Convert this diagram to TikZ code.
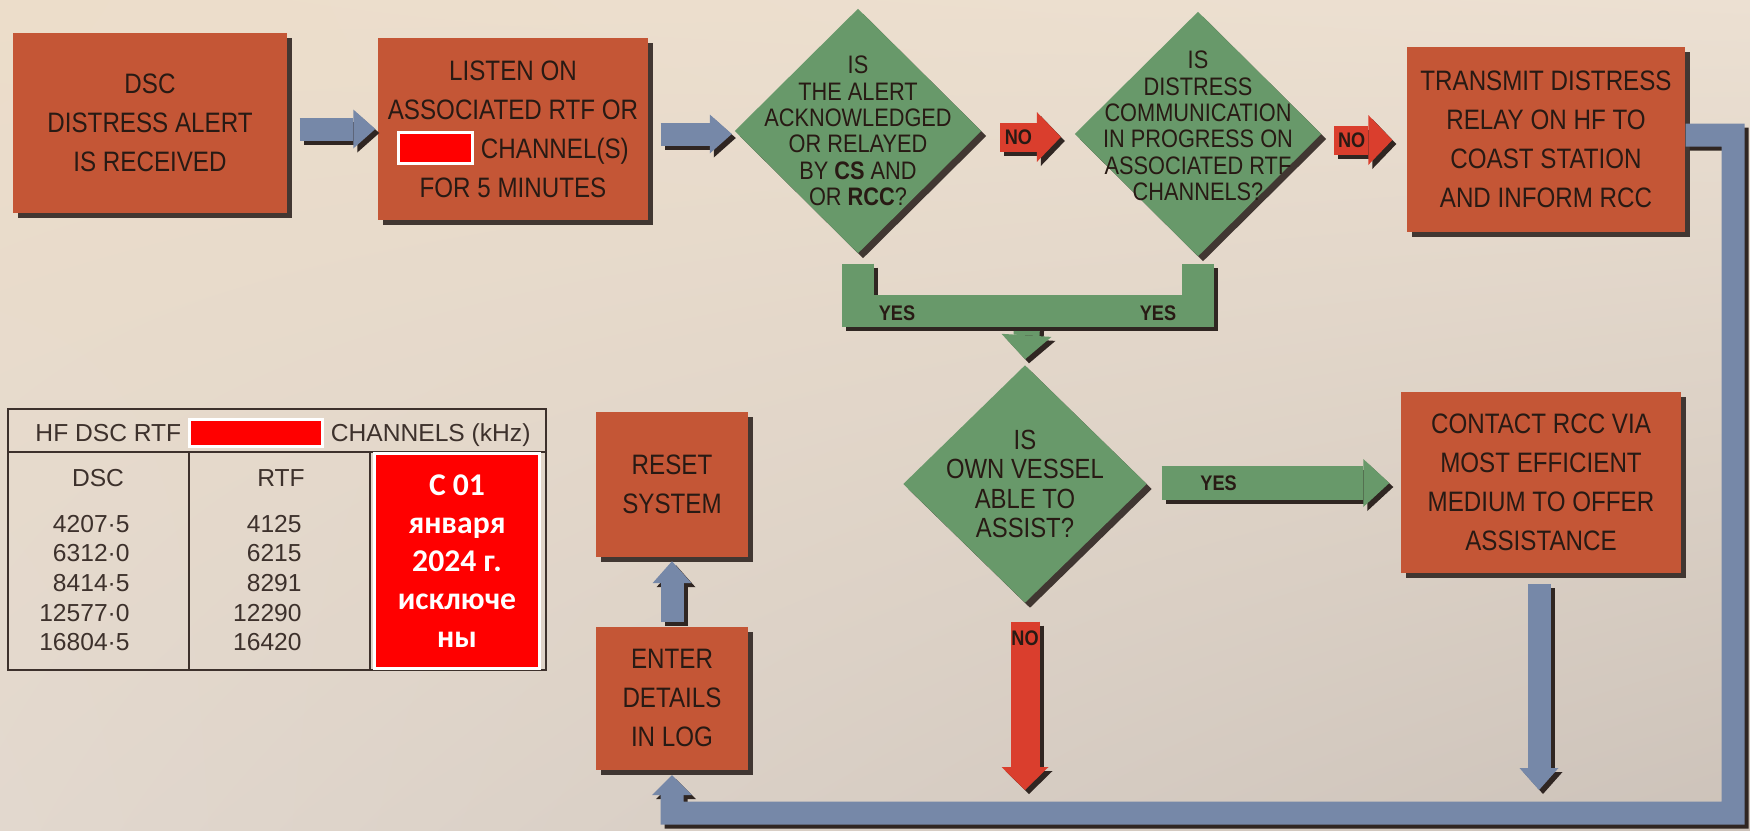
\documentclass[tikz,border=0pt]{standalone}
\usepackage{fontspec}
\setmainfont{Liberation Sans}
\newfontfamily\narrowfont[FakeStretch=0.86]{Liberation Sans}
\newfontfamily\notefont{Carlito}
\usetikzlibrary{shapes.geometric,shadows,shadings,arrows.meta,calc,positioning}

\definecolor{bgtl}{RGB}{236,221,202}
\definecolor{bgtr}{RGB}{236,224,210}
\definecolor{bgbl}{RGB}{226,216,206}
\definecolor{bgbr}{RGB}{204,194,185}
\definecolor{boxc}{RGB}{196,86,54}
\definecolor{diac}{RGB}{104,153,106}
\definecolor{arrc}{RGB}{118,136,168}
\definecolor{noc}{RGB}{218,62,45}
\definecolor{inkc}{RGB}{40,26,20}
\definecolor{shadec}{RGB}{48,38,34}
\definecolor{redact}{RGB}{255,0,0}

% red patch inside a line of text
\newcommand{\redbar}[3]{{\setlength{\fboxsep}{0pt}\setlength{\fboxrule}{0.3mm}%
  \fcolorbox{white}{redact}{\rule[#3]{0pt}{#2}\hspace{#1}}}}

\tikzset{
  stepbox/.style={rectangle, fill=boxc, text=inkc, inner sep=0pt, align=center,
    font=\narrowfont\fontsize{8}{11.1}\selectfont,
    drop shadow={shadow xshift=0.5mm, shadow yshift=-0.5mm, fill=shadec, opacity=0.9}},
  question/.style={diamond, fill=diac, inner sep=0pt,
    drop shadow={shadow xshift=0.5mm, shadow yshift=-0.5mm, fill=shadec, opacity=0.9}},
  qtext/.style={text=inkc, align=center, font=\narrowfont\fontsize{7.2}{7.5}\selectfont},
  flowlabel/.style={text=inkc, font=\narrowfont\bfseries\fontsize{6}{6}\selectfont},
  fatline/.style n args={2}{draw=#1, line width=#2, line join=miter,
    preaction={draw=shadec, line width=#2, transform canvas={shift={(0.4mm,-0.4mm)}}}},
  tip/.style n args={2}{-{Triangle[length=#1, width=#2, line width=0pt 0 0]}},
  bluelink/.style={fatline={arrc}{2.3mm}, tip={2.2mm}{3.9mm}},
  nolink/.style={fatline={noc}{2.9mm}, tip={2.4mm}{5mm}},
  yeslink/.style={fatline={diac}{3.4mm}, tip={2.6mm}{4.8mm}},
  tabline/.style={draw=inkc!90, line width=0.2mm},
  tabtext/.style={text=inkc!90, font=\fontsize{7}{8.43}\selectfont}
}

\begin{document}
\begin{tikzpicture}[x=0.1mm, y=-0.1mm]
\shade[upper left=bgtl, upper right=bgtr, lower left=bgbl, lower right=bgbr] (0,0) rectangle (1750,830);
\useasboundingbox (0,0) rectangle (1750,830);

% top row
\node[stepbox, minimum width=27.4mm, minimum height=18mm] (dsc) at (150,123) {DSC\\DISTRESS ALERT\\IS RECEIVED};
\node[stepbox, minimum width=27mm, minimum height=18.2mm] (listen) at (513,129) {LISTEN ON\\ASSOCIATED RTF OR\\\redbar{7.1mm}{2.8mm}{-0.4mm} CHANNEL(S)\\FOR 5 MINUTES};
\node[question, minimum width=24.7mm, minimum height=24.5mm] (q1) at (858,131) {};
\node[qtext] at (q1) {IS\\THE ALERT\\ACKNOWLEDGED\\OR RELAYED\\BY \textbf{CS} AND\\OR \textbf{RCC}?};
\node[question, minimum width=24.7mm, minimum height=24.5mm] (q2) at (1198,134) {};
\node[qtext] at ([yshift=0.8mm]q2.center) {IS\\DISTRESS\\COMMUNICATION\\IN PROGRESS ON\\ASSOCIATED RTF\\CHANNELS?};
\node[stepbox, minimum width=27.8mm, minimum height=18.5mm] (transmit) at (1546,139) {TRANSMIT DISTRESS\\RELAY ON HF TO\\COAST STATION\\AND INFORM RCC};

\draw[bluelink] ($(dsc.east)+(12,6)$) -- ($(listen.west)+(-2,0)$);
\draw[bluelink] ($(listen.east)+(12,5)$) -- ($(q1.west)+(-2,3)$);
\draw[nolink] ($(q1.east)+(18,6)$) -- ($(q2.west)+(-13,3)$) node[flowlabel, pos=0.3] {NO};
\draw[nolink] ($(q2.east)+(12,6)$) -- ($(transmit.west)+(-14,1)$) node[flowlabel, pos=0.3] {NO};

% middle row
\node[question, minimum width=24.4mm, minimum height=23.8mm] (q3) at (1025,484) {};
\node[qtext, font=\narrowfont\fontsize{7.9}{8.3}\selectfont] at (q3) {IS\\OWN VESSEL\\ABLE TO\\ASSIST?};
\node[stepbox, minimum width=28mm, minimum height=18.1mm] (contact) at (1541,482) {CONTACT RCC VIA\\MOST EFFICIENT\\MEDIUM TO OFFER\\ASSISTANCE};
\draw[yeslink] ($(q3.east)+(14,-1)$) -- ($(contact.west)+(-11,1)$) node[flowlabel, pos=0.25] {YES};

% yes bracket
\draw[fatline={diac}{2.6mm}, tip={2.4mm}{5mm}] (1028,311) -- ([yshift=0.5mm]q3.north);
\draw[fatline={diac}{3.2mm}] ([yshift=-0.95mm]q1.south) -- (858,311) -- (1198,311) -- ([yshift=-0.65mm]q2.south);
\node[flowlabel] at (897,313) {YES};
\node[flowlabel] at (1158,313) {YES};

\node[stepbox, minimum width=15.2mm, minimum height=14.5mm] (reset) at (672,484) {RESET\\SYSTEM};
\node[stepbox, minimum width=15.2mm, minimum height=14.3mm] (logentry) at (672,698) {ENTER\\DETAILS\\IN LOG};
\draw[bluelink] ($(logentry.north)+(0,-4)$) -- ($(reset.south)+(0,4)$);

% return path to log
\coordinate (rail) at (672,813);
\draw[nolink, tip={2.3mm}{4.7mm}] ($(q3.south)+(0,18)$) -- ($(q3.south |- rail)+(0,-23)$);
\node[flowlabel] at ($(q3.south)+(0,35)$) {NO};
\draw[bluelink] ($(contact.south)+(-2,11)$) -- ($(contact.south |- rail)+(-2,-23)$);
\draw[bluelink, tip={2mm}{4mm}] ([yshift=0.4mm]transmit.east) -- (1733,135) -- (1733,813) -- (rail) -- ([yshift=-0.5mm]logentry.south);

% channel table
\draw[tabline] (8,409) rectangle (546,670);
\draw[tabline] (8,452) -- (546,452);
\draw[tabline] (189,452) -- (189,670);
\draw[tabline] (370,452) -- (370,670);
\node[tabtext] (hdr) at (283,433) {HF DSC RTF \redbar{13mm}{2.4mm}{-0.35mm} CHANNELS (kHz)};
\node[tabtext] (dsccol) at (98,478) {DSC};
\node[tabtext] (rtfcol) at (281,478) {RTF};
\node[tabtext, align=right, anchor=east] at (142,583) {4207·5\\6312·0\\8414·5\\12577·0\\16804·5};
\node[tabtext, align=right, anchor=east] at (314,583) {4125\\6215\\8291\\12290\\16420};
\node[draw=white, line width=0.3mm, fill=redact, minimum width=16.5mm, minimum height=21.5mm, text=white, align=center, font=\notefont\bfseries\fontsize{9}{10.8}\selectfont] (note) at (457,561) {С 01\\января\\2024 г.\\исключе\\ны};
\end{tikzpicture}
\end{document}
